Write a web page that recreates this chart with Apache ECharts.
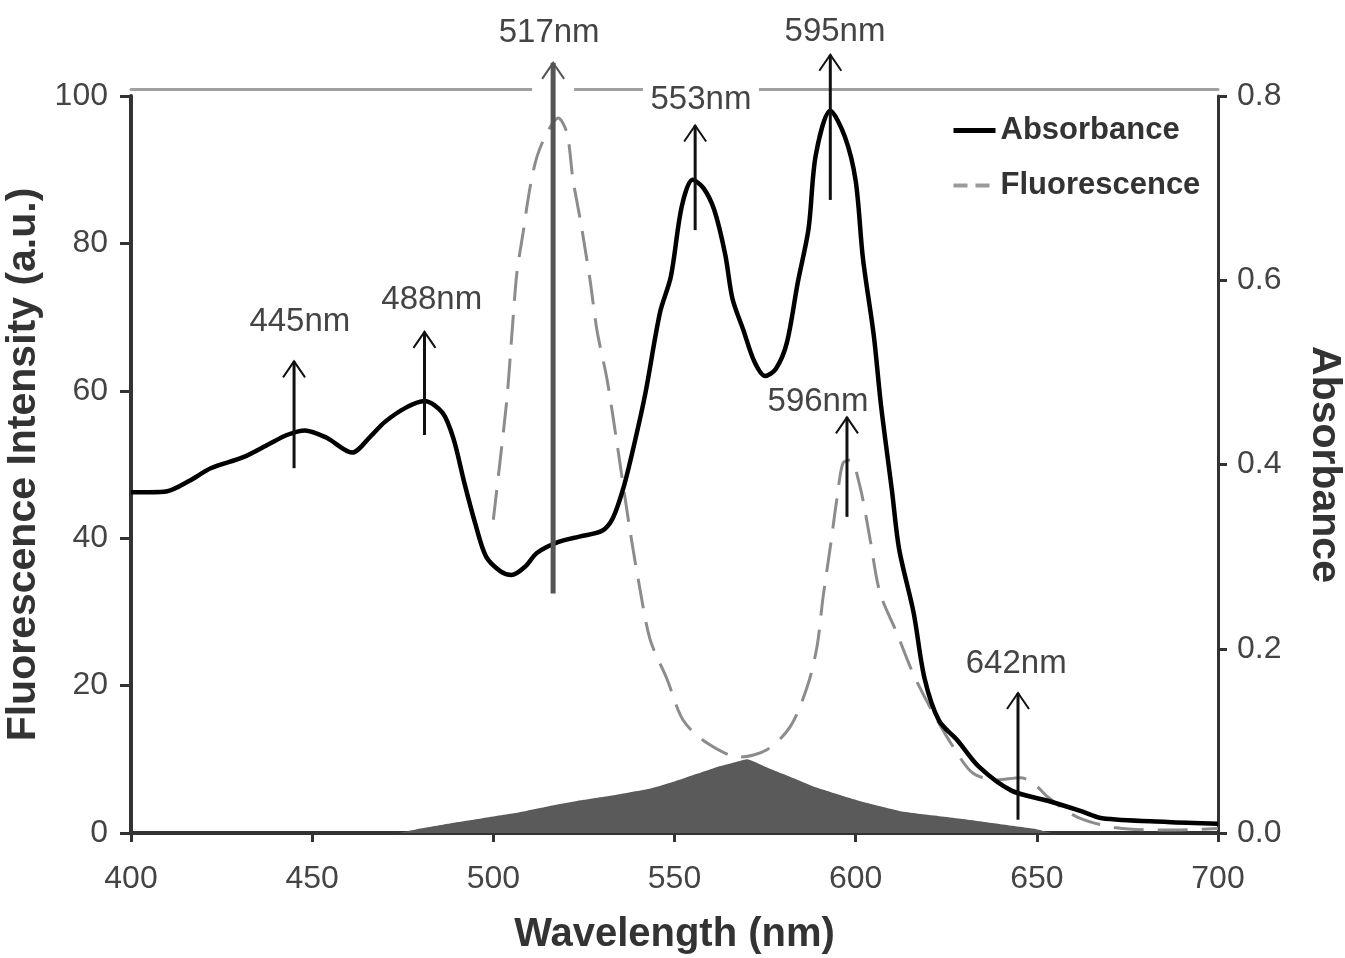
<!DOCTYPE html>
<html>
<head>
<meta charset="utf-8">
<title>Absorbance / Fluorescence</title>
<script src="https://cdn.jsdelivr.net/npm/echarts@6/dist/echarts.min.js"></script>
<style>
html, body { margin: 0; padding: 0; background: #fff; }
#chart { width: 1345px; height: 958px; }
</style>
</head>
<body>
<div id="chart"></div>
<script>
// absorbance curve (right axis)
var absWl = [400, 405, 410, 416, 422, 431, 438, 443, 448, 454, 461, 466, 470, 476, 481, 486, 489, 492, 495, 498,
  502, 505, 509, 512, 518, 524, 530, 533, 536, 539, 542, 546, 549, 552, 555, 558, 561, 564, 566, 569,
  572, 575, 578, 581, 584, 587, 589, 593, 597, 600, 602, 605, 607, 610, 612, 616, 619, 623, 628, 634,
  643, 653, 662, 668, 686, 700];
var absVal = [0.370, 0.370, 0.371, 0.382, 0.396, 0.408, 0.422, 0.432, 0.437, 0.429, 0.413, 0.430, 0.446, 0.462, 0.469, 0.456, 0.428, 0.380, 0.336, 0.300,
  0.284, 0.280, 0.290, 0.304, 0.316, 0.322, 0.328, 0.342, 0.376, 0.424, 0.478, 0.565, 0.604, 0.680, 0.709, 0.700, 0.676, 0.628, 0.580, 0.546,
  0.512, 0.496, 0.504, 0.532, 0.597, 0.656, 0.736, 0.784, 0.756, 0.708, 0.624, 0.540, 0.464, 0.372, 0.308, 0.239, 0.168, 0.122, 0.101, 0.072,
  0.046, 0.035, 0.024, 0.016, 0.012, 0.010];

// fluorescence curve (left axis)
var fluoWl = [500, 501.8, 503.8, 505.2, 506.5, 508.2, 510, 512, 514.8, 517.9, 520.3, 522, 524, 526.7, 528.6, 531.4, 534, 537.7, 540.5, 543.3,
  548, 552.4, 559, 568, 575.5, 581.9, 586.6, 589.3, 591, 593, 594.9, 596.5, 598.5, 601.2, 604, 606.7, 611.4, 615.8, 620.5, 626.9,
  632.4, 639, 645.4, 649, 653, 661, 672, 686, 700];
var fluoVal = [42.5, 50.2, 59.2, 68.2, 76, 81.4, 87.2, 91.7, 95, 97, 95, 88.6, 83.2, 75, 68.2, 61.5, 53.3, 41.1, 33, 26.2,
  20.8, 15.3, 12.2, 10.3, 11.3, 14.4, 19.8, 25.2, 32, 38.8, 45.6, 50.2, 50.6, 47, 39.8, 32.6, 27.1, 21.7, 17.1, 11.7,
  8.1, 7.2, 7.5, 6.8, 4.9, 2.2, 0.7, 0.4, 0.6];

// shaded overlap region (left axis)
var overlapWl = [474, 481, 488, 497, 506, 515, 525, 534, 543, 550, 556, 562, 566, 570, 575, 580, 585, 589, 596, 603, 612, 621, 631, 640, 649, 654];
var overlapVal = [0, 0.7, 1.3, 2.0, 2.7, 3.6, 4.5, 5.2, 6.0, 7.0, 8.0, 9.0, 9.5, 10.0, 9.0, 8.0, 7.0, 6.2, 5.1, 4.1, 3.0, 2.4, 1.8, 1.2, 0.6, 0];

// annotation arrows: wavelength, start, tip (left axis units) and label position
var arrowText = ['445nm', '488nm', '517nm', '553nm', '595nm', '596nm', '642nm'];
var arrowWl = [445, 481, 516.5, 555.7, 593, 597.6, 644.8];
var arrowFrom = [49.5, 54, 32.5, 81.8, 85.9, 42.9, 1.8];
var arrowTo = [64, 68, 104.5, 96, 105.6, 56.4, 19];
var labelWl = [446.6, 483, 515.4, 557.3, 594.3, 589.6, 644.3];
var labelVal = [69.3, 72.3, 108.5, 99.5, 108.7, 58.5, 23];

function pairs(xs, ys) {
  return xs.map(function (x, i) { return [x, ys[i]]; });
}

var arrowData = arrowWl.map(function (w, i) {
  return [w, arrowFrom[i], arrowTo[i], labelWl[i], labelVal[i]];
});

function renderArrow(params, api) {
  var i = params.dataIndex;
  var base = api.coord([api.value(0), api.value(1)]);
  var tip = api.coord([api.value(0), api.value(2)]);
  var lab = api.coord([api.value(3), api.value(4)]);
  var heavy = i === 2;
  var col = heavy ? '#555' : '#111';
  return {
    type: 'group',
    children: [
      // white boxes break the top frame line behind arrowheads and labels
      { type: 'rect', shape: { x: tip[0] - 21, y: tip[1] - 3, width: 42, height: 32 }, style: { fill: '#fff' } },
      { type: 'rect', shape: { x: lab[0] - 58, y: lab[1] - 14, width: 116, height: 28 }, style: { fill: '#fff' } },
      { type: 'line', shape: { x1: base[0], y1: base[1], x2: tip[0], y2: tip[1] },
        style: { stroke: col, lineWidth: heavy ? 5 : 3 } },
      { type: 'polyline', shape: { points: [[tip[0] - 11, tip[1] + 16], [tip[0], tip[1]], [tip[0] + 11, tip[1] + 16]] },
        style: { stroke: col, lineWidth: 2, fill: null } },
      { type: 'text', x: lab[0], y: lab[1],
        style: { text: arrowText[i], font: '33px "Liberation Sans"', fill: '#444',
          align: 'center', verticalAlign: 'middle' } }
    ]
  };
}

var chart = echarts.init(document.getElementById('chart'));
var font = '"Liberation Sans", Arial, sans-serif';

chart.setOption({
  backgroundColor: '#fff',
  animation: false,
  grid: { left: 131, right: 127, top: 96, bottom: 125, outerBoundsMode: 'none' },
  legend: {
    data: [
      { name: 'Absorbance', lineStyle: { width: 5, color: '#000' } },
      { name: 'Fluorescence', lineStyle: { width: 4, color: '#9a9a9a', type: [14, 8] } }
    ],
    orient: 'vertical',
    left: 946,
    top: 110,
    itemWidth: 42,
    itemHeight: 14,
    itemGap: 24,
    itemStyle: { opacity: 0 },
    textStyle: { fontFamily: font, fontWeight: 'bold', fontSize: 31, color: '#333' }
  },
  xAxis: [{
    type: 'value', min: 400, max: 700, interval: 50,
    name: 'Wavelength (nm)', nameLocation: 'middle', nameGap: 82,
    nameTextStyle: { fontFamily: font, fontWeight: 'bold', fontSize: 40, color: '#333' },
    axisLine: { onZero: false, lineStyle: { color: '#333', width: 4 } },
    axisTick: { inside: false, length: 9, lineStyle: { color: '#333', width: 3 } },
    axisLabel: { margin: 30, fontFamily: font, fontSize: 32, color: '#444' },
    splitLine: { show: false }
  }, {
    type: 'value', min: 400, max: 700, position: 'top', offset: 7, z: 0,
    axisLine: { show: true, onZero: false, lineStyle: { color: '#a0a0a0', width: 3 } },
    axisTick: { show: false },
    axisLabel: { show: false },
    splitLine: { show: false }
  }],
  yAxis: [{
    type: 'value', min: 0, max: 100, interval: 20, position: 'left',
    name: 'Fluorescence Intensity (a.u.)', nameLocation: 'middle', nameGap: 78,
    nameTextStyle: { fontFamily: font, fontWeight: 'bold', fontSize: 41, color: '#333' },
    axisLine: { show: true, onZero: false, lineStyle: { color: '#333', width: 4 } },
    axisTick: { show: true, inside: false, length: 11, lineStyle: { color: '#333', width: 3 } },
    axisLabel: { margin: 23, fontFamily: font, fontSize: 32, color: '#444' },
    splitLine: { show: false }
  }, {
    type: 'value', min: 0, max: 0.8, interval: 0.2, position: 'right',
    name: 'Absorbance', nameLocation: 'middle', nameGap: 86, nameRotate: -90,
    nameTextStyle: { fontFamily: font, fontWeight: 'bold', fontSize: 41, color: '#333' },
    axisLine: { show: true, onZero: false, lineStyle: { color: '#333', width: 3 } },
    axisTick: { show: true, inside: false, length: 9, lineStyle: { color: '#333', width: 3 } },
    axisLabel: { margin: 19, fontFamily: font, fontSize: 32, color: '#444',
      formatter: function (v) { return v.toFixed(1); } },
    splitLine: { show: false }
  }],
  series: [{
    name: 'Overlap',
    type: 'line',
    yAxisIndex: 0,
    data: pairs(overlapWl, overlapVal),
    smooth: 0.15,
    symbol: 'none',
    lineStyle: { width: 0 },
    itemStyle: { color: '#5a5a5a' },
    areaStyle: { color: '#5a5a5a', opacity: 1 },
    silent: true
  }, {
    name: 'Fluorescence',
    type: 'line',
    yAxisIndex: 0,
    data: pairs(fluoWl, fluoVal),
    smooth: 0.3,
    symbol: 'none',
    itemStyle: { color: '#8c8c8c' },
    lineStyle: { color: '#8c8c8c', width: 3, type: [30, 14] }
  }, {
    name: 'Absorbance',
    type: 'line',
    yAxisIndex: 1,
    data: pairs(absWl, absVal),
    smooth: 0.3,
    symbol: 'none',
    itemStyle: { color: '#000' },
    lineStyle: { color: '#000', width: 4.5 }
  }, {
    name: 'Arrows',
    type: 'custom',
    xAxisIndex: 0,
    yAxisIndex: 0,
    z: 10,
    renderItem: renderArrow,
    data: arrowData,
    clip: false,
    silent: true
  }]
});
</script>
</body>
</html>
